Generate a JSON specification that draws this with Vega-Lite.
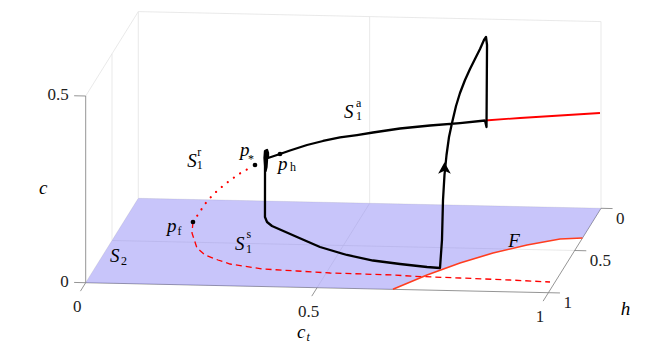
{
  "$schema": "https://vega.github.io/schema/vega-lite/v6.json",
  "width": 664,
  "height": 346,
  "autosize": {"type": "fit", "contains": "padding"},
  "padding": 0,
  "background": "white",
  "config": {"view": {"stroke": null}},
  "data": {"values": [
    {"k":"grid","g":1,"i":0,"ct":0,"h":0,"c":0},{"k":"grid","g":1,"i":1,"ct":0,"h":0,"c":0.5},
    {"k":"grid","g":2,"i":0,"ct":0.5,"h":0,"c":0},{"k":"grid","g":2,"i":1,"ct":0.5,"h":0,"c":0.5},
    {"k":"grid","g":3,"i":0,"ct":1,"h":0,"c":0},{"k":"grid","g":3,"i":1,"ct":1,"h":0,"c":0.5},
    {"k":"grid","g":4,"i":0,"ct":0,"h":0,"c":0.5},{"k":"grid","g":4,"i":1,"ct":1,"h":0,"c":0.5},
    {"k":"grid","g":5,"i":0,"ct":0,"h":0,"c":0},{"k":"grid","g":5,"i":1,"ct":1,"h":0,"c":0},
    {"k":"grid","g":6,"i":0,"ct":0,"h":0.5,"c":0},{"k":"grid","g":6,"i":1,"ct":0,"h":0.5,"c":0.5},
    {"k":"grid","g":7,"i":0,"ct":0,"h":0,"c":0.5},{"k":"grid","g":7,"i":1,"ct":0,"h":1,"c":0.5},
    {"k":"grid","g":8,"i":0,"ct":0,"h":0,"c":0},{"k":"grid","g":8,"i":1,"ct":0,"h":1,"c":0},
    {"k":"grid","g":9,"i":0,"ct":0.5,"h":0,"c":0},{"k":"grid","g":9,"i":1,"ct":0.5,"h":1,"c":0},
    {"k":"grid","g":10,"i":0,"ct":0,"h":0.5,"c":0},{"k":"grid","g":10,"i":1,"ct":1,"h":0.5,"c":0},
    {"k":"axis","g":11,"i":0,"ct":0,"h":1,"c":0},{"k":"axis","g":11,"i":1,"ct":1,"h":1,"c":0},
    {"k":"axis","g":12,"i":0,"ct":1,"h":0,"c":0},{"k":"axis","g":12,"i":1,"ct":1,"h":1,"c":0},
    {"k":"axis","g":13,"i":0,"ct":0,"h":1,"c":0},{"k":"axis","g":13,"i":1,"ct":0,"h":1,"c":0.5},
    {"k":"axis","g":14,"i":0,"ct":0,"h":1,"c":0},{"k":"axis","g":14,"i":1,"ct":0,"h":1.1,"c":0},
    {"k":"axis","g":15,"i":0,"ct":0.5,"h":1,"c":0},{"k":"axis","g":15,"i":1,"ct":0.5,"h":1.1,"c":0},
    {"k":"axis","g":16,"i":0,"ct":1,"h":1,"c":0},{"k":"axis","g":16,"i":1,"ct":1,"h":1.1,"c":0},
    {"k":"axis","g":17,"i":0,"ct":1,"h":0,"c":0},{"k":"axis","g":17,"i":1,"ct":1.025,"h":0,"c":0},
    {"k":"axis","g":18,"i":0,"ct":1,"h":0.5,"c":0},{"k":"axis","g":18,"i":1,"ct":1.025,"h":0.5,"c":0},
    {"k":"axis","g":19,"i":0,"ct":1,"h":1,"c":0},{"k":"axis","g":19,"i":1,"ct":1.025,"h":1,"c":0},
    {"k":"axis","g":20,"i":0,"ct":0,"h":1,"c":0},{"k":"axis","g":20,"i":1,"ct":-0.025,"h":1,"c":0},
    {"k":"axis","g":21,"i":0,"ct":0,"h":1,"c":0.5},{"k":"axis","g":21,"i":1,"ct":-0.025,"h":1,"c":0.5},
    {"k":"plane","i":1,"ct":0,"h":0,"c":0},
    {"k":"plane","i":2,"ct":1,"h":0,"c":0},
    {"k":"plane","i":3,"ct":1,"h":0.352,"c":0},
    {"k":"plane","i":4,"ct":0.9534,"h":0.3693,"c":0},
    {"k":"plane","i":5,"ct":0.891,"h":0.4478,"c":0},
    {"k":"plane","i":6,"ct":0.8291,"h":0.5499,"c":0},
    {"k":"plane","i":7,"ct":0.772,"h":0.6751,"c":0},
    {"k":"plane","i":8,"ct":0.7176,"h":0.8237,"c":0},
    {"k":"plane","i":9,"ct":0.664,"h":1,"c":0},
    {"k":"plane","i":10,"ct":0,"h":1,"c":0},
    {"k":"F","i":1,"ct":0.664,"h":1,"c":0},
    {"k":"F","i":2,"ct":0.7176,"h":0.8237,"c":0},
    {"k":"F","i":3,"ct":0.772,"h":0.6751,"c":0},
    {"k":"F","i":4,"ct":0.8291,"h":0.5499,"c":0},
    {"k":"F","i":5,"ct":0.891,"h":0.4478,"c":0},
    {"k":"F","i":6,"ct":0.9534,"h":0.3693,"c":0},
    {"k":"F","i":7,"ct":1,"h":0.352,"c":0},
    {"k":"dash","i":1,"ct":0.1481,"h":0.2633,"c":0},
    {"k":"dash","i":2,"ct":0.1606,"h":0.3921,"c":0},
    {"k":"dash","i":3,"ct":0.1912,"h":0.5662,"c":0},
    {"k":"dash","i":4,"ct":0.2176,"h":0.646,"c":0},
    {"k":"dash","i":5,"ct":0.252,"h":0.7012,"c":0},
    {"k":"dash","i":6,"ct":0.2829,"h":0.7449,"c":0},
    {"k":"dash","i":7,"ct":0.3599,"h":0.795,"c":0},
    {"k":"dash","i":8,"ct":0.435,"h":0.8098,"c":0},
    {"k":"dash","i":9,"ct":0.5081,"h":0.8249,"c":0},
    {"k":"dash","i":10,"ct":0.5798,"h":0.8282,"c":0},
    {"k":"dash","i":11,"ct":0.6451,"h":0.8323,"c":0},
    {"k":"dash","i":12,"ct":0.6904,"h":0.842,"c":0},
    {"k":"dash","i":13,"ct":0.792,"h":0.8505,"c":0},
    {"k":"dash","i":14,"ct":0.9012,"h":0.8612,"c":0},
    {"k":"dash","i":15,"ct":0.9892,"h":0.8745,"c":0},
    {"k":"dot","i":1,"ct":0.1481,"h":0.263,"c":0},
    {"k":"dot","i":2,"ct":0.1568,"h":0.263,"c":0.0163},
    {"k":"dot","i":3,"ct":0.1654,"h":0.263,"c":0.0325},
    {"k":"dot","i":4,"ct":0.174,"h":0.263,"c":0.0488},
    {"k":"dot","i":5,"ct":0.1849,"h":0.263,"c":0.0652},
    {"k":"dot","i":6,"ct":0.1978,"h":0.263,"c":0.0816},
    {"k":"dot","i":7,"ct":0.2151,"h":0.263,"c":0.1008},
    {"k":"dot","i":8,"ct":0.2324,"h":0.263,"c":0.1174},
    {"k":"dot","i":9,"ct":0.254,"h":0.263,"c":0.1367},
    {"k":"dot","i":10,"ct":0.2713,"h":0.263,"c":0.1479},
    {"k":"S1a","i":1,"ct":0.7567,"h":0.0648,"c":0.2433},
    {"k":"S1a","i":2,"ct":0.8301,"h":0.0451,"c":0.2475},
    {"k":"S1a","i":3,"ct":0.914,"h":0.0225,"c":0.2513},
    {"k":"S1a","i":4,"ct":0.9978,"h":0,"c":0.2552},
    {"k":"traj","i":1,"ct":0.7567,"h":0.0648,"c":0.2433},
    {"k":"traj","i":2,"ct":0.7042,"h":0.0789,"c":0.2383},
    {"k":"traj","i":3,"ct":0.6413,"h":0.0958,"c":0.2338},
    {"k":"traj","i":4,"ct":0.5784,"h":0.1127,"c":0.2279},
    {"k":"traj","i":5,"ct":0.5218,"h":0.1279,"c":0.2191},
    {"k":"traj","i":6,"ct":0.4882,"h":0.1369,"c":0.2135},
    {"k":"traj","i":7,"ct":0.4526,"h":0.1465,"c":0.2081},
    {"k":"traj","i":8,"ct":0.4169,"h":0.156,"c":0.1999},
    {"k":"traj","i":9,"ct":0.3834,"h":0.165,"c":0.1903},
    {"k":"traj","i":10,"ct":0.3477,"h":0.1746,"c":0.1768},
    {"k":"traj","i":11,"ct":0.3267,"h":0.1802,"c":0.1681},
    {"k":"traj","i":12,"ct":0.3016,"h":0.187,"c":0.1583},
    {"k":"traj","i":13,"ct":0.3016,"h":0.187,"c":0.1717},
    {"k":"traj","i":14,"ct":0.2994,"h":0.187,"c":0.1797},
    {"k":"traj","i":15,"ct":0.2951,"h":0.187,"c":0.1770},
    {"k":"traj","i":16,"ct":0.2940,"h":0.187,"c":0.1583},
    {"k":"traj","i":17,"ct":0.2951,"h":0.187,"c":0.1368},
    {"k":"traj","i":18,"ct":0.2962,"h":0.187,"c":0.1230},
    {"k":"traj","i":19,"ct":0.2983,"h":0.187,"c":0.1342},
    {"k":"traj","i":20,"ct":0.2994,"h":0.187,"c":0.1529},
    {"k":"traj","i":21,"ct":0.2972,"h":0.187,"c":0.1740},
    {"k":"traj","i":22,"ct":0.2951,"h":0.187,"c":0.1600},
    {"k":"traj","i":23,"ct":0.2962,"h":0.187,"c":0.1400},
    {"k":"traj","i":24,"ct":0.2983,"h":0.187,"c":0.1600},
    {"k":"traj","i":25,"ct":0.2962,"h":0.187,"c":0.1700},
    {"k":"traj","i":26,"ct":0.2951,"h":0.187,"c":0.1500},
    {"k":"traj","i":27,"ct":0.2951,"h":0.187,"c":0.1208},
    {"k":"traj","i":28,"ct":0.295,"h":0.187,"c":0},
    {"k":"traj","i":29,"ct":0.306,"h":0.2446,"c":0},
    {"k":"traj","i":30,"ct":0.3219,"h":0.2901,"c":0},
    {"k":"traj","i":31,"ct":0.3899,"h":0.4123,"c":0},
    {"k":"traj","i":32,"ct":0.4522,"h":0.5234,"c":0},
    {"k":"traj","i":33,"ct":0.5204,"h":0.6101,"c":0},
    {"k":"traj","i":34,"ct":0.5832,"h":0.6679,"c":0},
    {"k":"traj","i":35,"ct":0.6454,"h":0.702,"c":0},
    {"k":"traj","i":36,"ct":0.707,"h":0.7302,"c":0},
    {"k":"traj","i":37,"ct":0.736,"h":0.7386,"c":0},
    {"k":"traj","i":38,"ct":0.7403,"h":0.7386,"c":0.0751},
    {"k":"traj","i":39,"ct":0.7425,"h":0.7386,"c":0.1823},
    {"k":"traj","i":40,"ct":0.7457,"h":0.7386,"c":0.2493},
    {"k":"traj","i":41,"ct":0.7501,"h":0.7386,"c":0.303},
    {"k":"traj","i":42,"ct":0.7478,"h":0.6711,"c":0.3359},
    {"k":"traj","i":43,"ct":0.7466,"h":0.6036,"c":0.3581},
    {"k":"traj","i":44,"ct":0.7476,"h":0.5361,"c":0.3884},
    {"k":"traj","i":45,"ct":0.7485,"h":0.4686,"c":0.408},
    {"k":"traj","i":46,"ct":0.7517,"h":0.4011,"c":0.4276},
    {"k":"traj","i":47,"ct":0.7548,"h":0.3336,"c":0.4419},
    {"k":"traj","i":48,"ct":0.7579,"h":0.2661,"c":0.4535},
    {"k":"traj","i":49,"ct":0.7611,"h":0.1986,"c":0.4651},
    {"k":"traj","i":50,"ct":0.762,"h":0.1311,"c":0.474},
    {"k":"traj","i":51,"ct":0.7587,"h":0.0636,"c":0.4667},
    {"k":"traj","i":52,"ct":0.7609,"h":0.0636,"c":0.4453},
    {"k":"traj","i":53,"ct":0.7598,"h":0.0636,"c":0.2257},
    {"k":"traj","i":54,"ct":0.7567,"h":0.0648,"c":0.2433},
    {"k":"arrow","ct":0.7457,"h":0.7386,"c":0.2681},
    {"k":"pt","ct":0.1481,"h":0.2633,"c":0},
    {"k":"pt","ct":0.2821,"h":0.263,"c":0.1562},
    {"k":"pt","ct":0.3267,"h":0.1802,"c":0.1681},
    {"k":"ti","t":"S","ct":0.0243,"h":0.7519,"c":0},
    {"k":"ti","t":"p","ct":0.106,"h":0.3867,"c":0},
    {"k":"ti","t":"S","ct":0.2749,"h":0.58,"c":0},
    {"k":"ti","t":"F","ct":0.8533,"h":0.4724,"c":0},
    {"k":"ti","t":"c","ct":0.5241,"h":1.5931,"c":0},
    {"k":"ti","t":"h","ct":1.1838,"h":1.2425,"c":0},
    {"k":"ti","t":"S","ct":0.1286,"h":0.2,"c":0.1338},
    {"k":"ti","t":"p","ct":0.2425,"h":0.2,"c":0.165},
    {"k":"ti","t":"p","ct":0.3247,"h":0.2,"c":0.131},
    {"k":"ti","t":"S","ct":0.4673,"h":0.2,"c":0.272},
    {"k":"ti","t":"c","ct":-0.1009,"h":1,"c":0.2348},
    {"k":"ts","t":"2","ct":0.0518,"h":0.7842,"c":0},
    {"k":"ts","t":"f","ct":0.1324,"h":0.4191,"c":0},
    {"k":"ts","t":"s","ct":0.2839,"h":0.4403,"c":0},
    {"k":"ts","t":"1","ct":0.302,"h":0.6088,"c":0},
    {"k":"ts","t":"r","ct":0.1503,"h":0.2,"c":0.1625},
    {"k":"ts","t":"1","ct":0.149,"h":0.2,"c":0.1269},
    {"k":"ts","t":"*","ct":0.2598,"h":0.2,"c":0.1467},
    {"k":"ts","t":"h","ct":0.3506,"h":0.2,"c":0.1277},
    {"k":"ts","t":"a","ct":0.4932,"h":0.2,"c":0.3037},
    {"k":"ts","t":"1","ct":0.4932,"h":0.2,"c":0.2681},
    {"k":"tsi","t":"t","ct":0.5484,"h":1.6258,"c":0},
    {"k":"lct","t":"0","ct":0,"h":1,"c":0},
    {"k":"lct","t":"0.5","ct":0.5,"h":1,"c":0},
    {"k":"lct","t":"1","ct":1,"h":1,"c":0},
    {"k":"lh","t":"0","ct":1,"h":0,"c":0},
    {"k":"lh","t":"0.5","ct":1,"h":0.5,"c":0},
    {"k":"lh","t":"1","ct":1,"h":1,"c":0},
    {"k":"lc","t":"0","ct":0,"h":1,"c":0},
    {"k":"lc","t":"0.5","ct":0,"h":1,"c":0.5}
  ]},
  "transform": [
    {"calculate": "138.3 + 462.7*datum.ct - 52.6*datum.h", "as": "px"},
    {"calculate": "198.3 + 10*datum.ct + 84.4*datum.h - 373.4*datum.c", "as": "py"}
  ],
  "encoding": {
    "x": {"field": "px", "type": "quantitative", "scale": {"domain": [0, 664], "nice": false, "zero": false}, "axis": null},
    "y": {"field": "py", "type": "quantitative", "scale": {"domain": [0, 346], "reverse": true, "nice": false, "zero": false}, "axis": null}
  },
  "layer": [
    {"transform": [{"filter": "datum.k == 'grid'"}],
     "mark": {"type": "line", "stroke": "#e3e3e3", "strokeWidth": 0.8},
     "encoding": {"detail": {"field": "g", "type": "nominal"}, "order": {"field": "i", "type": "quantitative"}}},
    {"transform": [{"filter": "datum.k == 'axis'"}],
     "mark": {"type": "line", "stroke": "#7a7a7a", "strokeWidth": 0.8},
     "encoding": {"detail": {"field": "g", "type": "nominal"}, "order": {"field": "i", "type": "quantitative"}}},
    {"transform": [{"filter": "datum.k == 'plane'"}],
     "mark": {"type": "line", "fill": "#857ef4", "fillOpacity": 0.45, "stroke": "#857ef4", "strokeOpacity": 0, "strokeWidth": 0},
     "encoding": {"order": {"field": "i", "type": "quantitative"}}},
    {"transform": [{"filter": "datum.k == 'dash'"}],
     "mark": {"type": "line", "stroke": "#ff0000", "strokeWidth": 1.3, "strokeDash": [6, 4]},
     "encoding": {"order": {"field": "i", "type": "quantitative"}}},
    {"transform": [{"filter": "datum.k == 'dot'"}],
     "mark": {"type": "line", "stroke": "#ff0000", "strokeWidth": 2.2, "strokeDash": [0.1, 7.5], "strokeCap": "round"},
     "encoding": {"order": {"field": "i", "type": "quantitative"}}},
    {"transform": [{"filter": "datum.k == 'F'"}],
     "mark": {"type": "line", "stroke": "#ff3d1f", "strokeWidth": 1.6},
     "encoding": {"order": {"field": "i", "type": "quantitative"}}},
    {"transform": [{"filter": "datum.k == 'S1a'"}],
     "mark": {"type": "line", "stroke": "#ff0000", "strokeWidth": 1.8},
     "encoding": {"order": {"field": "i", "type": "quantitative"}}},
    {"transform": [{"filter": "datum.k == 'traj'"}],
     "mark": {"type": "line", "stroke": "#000000", "strokeWidth": 2.3, "strokeJoin": "round"},
     "encoding": {"order": {"field": "i", "type": "quantitative"}}},
    {"transform": [{"filter": "datum.k == 'arrow'"}],
     "mark": {"type": "point", "shape": "M0,-0.8L0.9,0.8L0,0.4L-0.9,0.8Z", "size": 200, "filled": true, "color": "#000000", "opacity": 1}},
    {"transform": [{"filter": "datum.k == 'pt'"}],
     "mark": {"type": "circle", "size": 22, "color": "#000000", "opacity": 1}},
    {"transform": [{"filter": "datum.k == 'ti'"}],
     "mark": {"type": "text", "font": "Liberation Serif", "fontStyle": "italic", "fontSize": 19, "align": "left", "baseline": "alphabetic", "color": "#000000"},
     "encoding": {"text": {"field": "t"}}},
    {"transform": [{"filter": "datum.k == 'ts'"}],
     "mark": {"type": "text", "font": "Liberation Serif", "fontSize": 12, "align": "left", "baseline": "alphabetic", "color": "#000000"},
     "encoding": {"text": {"field": "t"}}},
    {"transform": [{"filter": "datum.k == 'tsi'"}],
     "mark": {"type": "text", "font": "Liberation Serif", "fontStyle": "italic", "fontSize": 12, "align": "left", "baseline": "alphabetic", "color": "#000000"},
     "encoding": {"text": {"field": "t"}}},
    {"transform": [{"filter": "datum.k == 'lct'"}],
     "mark": {"type": "text", "font": "Liberation Serif", "fontSize": 17, "align": "center", "baseline": "middle", "dx": -8.5, "dy": 24.5, "color": "#222222"},
     "encoding": {"text": {"field": "t"}}},
    {"transform": [{"filter": "datum.k == 'lh'"}],
     "mark": {"type": "text", "font": "Liberation Serif", "fontSize": 17, "align": "left", "baseline": "middle", "dx": 15, "dy": 10.5, "color": "#222222"},
     "encoding": {"text": {"field": "t"}}},
    {"transform": [{"filter": "datum.k == 'lc'"}],
     "mark": {"type": "text", "font": "Liberation Serif", "fontSize": 17, "align": "right", "baseline": "middle", "dx": -17, "dy": -1, "color": "#222222"},
     "encoding": {"text": {"field": "t"}}}
  ]
}
